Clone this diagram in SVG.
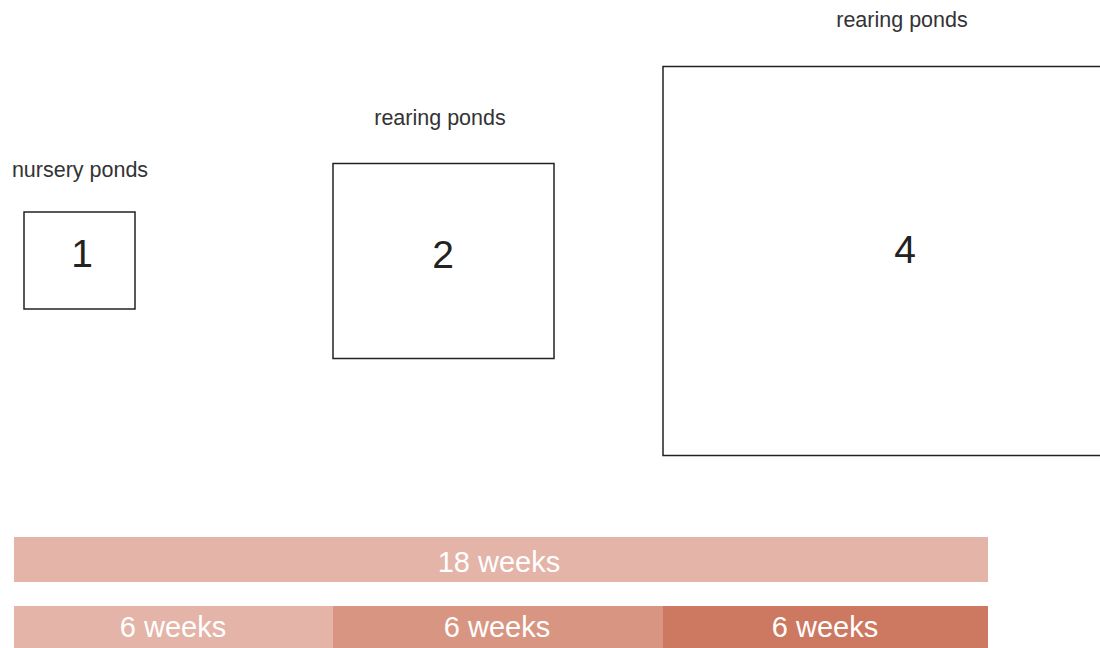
<svg xmlns="http://www.w3.org/2000/svg" width="1100" height="648" viewBox="0 0 1100 648">
<style>
.pond{fill:#fff;stroke:#222;stroke-width:1.5}
.lbl{font-family:"Liberation Sans",Arial,sans-serif;font-size:21.5px;fill:#333;text-anchor:middle}
.num{font-family:"Liberation Sans",Arial,sans-serif;font-size:39px;fill:#222;text-anchor:middle}
.bar{font-family:"Liberation Sans",Arial,sans-serif;font-size:29px;fill:#fff;text-anchor:middle}
.c1{fill:#E3B4A7}.c2{fill:#D89582}.c3{fill:#CD7861}
</style>
<rect width="1100" height="648" fill="#fff"/>
<g id="pond1">
<text class="lbl" x="80" y="177">nursery ponds</text>
<rect class="pond" x="24" y="212" width="111" height="97"/>
<text class="num" x="82" y="267">1</text>
</g>
<g id="pond2">
<text class="lbl" x="440" y="125">rearing ponds</text>
<rect class="pond" x="333" y="163.5" width="221" height="195"/>
<text class="num" x="443" y="268">2</text>
</g>
<g id="pond4">
<text class="lbl" x="902" y="27">rearing ponds</text>
<rect class="pond" x="663" y="66.5" width="500" height="389"/>
<text class="num" x="905" y="263">4</text>
</g>
<g id="connectors"></g>
<g id="bar18">
<rect class="c1" x="14" y="537" width="974" height="45"/>
<text class="bar" x="499" y="572">18 weeks</text>
</g>
<g id="bar6a">
<rect class="c1" x="14" y="606" width="318.5" height="42"/>
<text class="bar" x="173" y="637">6 weeks</text>
</g>
<g id="bar6b">
<rect class="c2" x="332.5" y="606" width="330.5" height="42"/>
<text class="bar" x="497" y="637">6 weeks</text>
</g>
<g id="bar6c">
<rect class="c3" x="663" y="606" width="325" height="42"/>
<text class="bar" x="825" y="637">6 weeks</text>
</g>
</svg>
